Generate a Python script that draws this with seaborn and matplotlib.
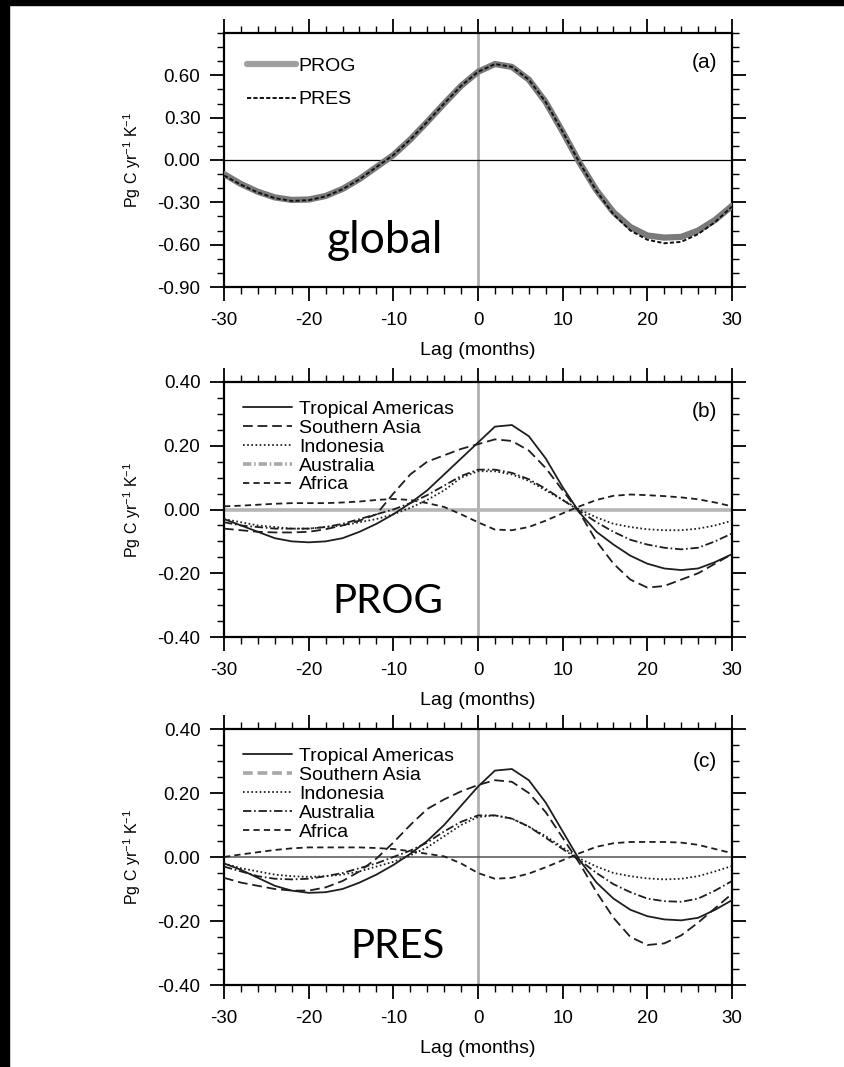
import matplotlib
matplotlib.use("Agg")
import matplotlib.pyplot as plt
from matplotlib.patches import Rectangle
from matplotlib.ticker import MultipleLocator
import seaborn as sns

# ---------------- data ----------------
lags = list(range(-30, 31, 2))

global_prog = [-0.10, -0.17, -0.225, -0.265, -0.283, -0.28, -0.255, -0.205, -0.135, -0.05,
               0.035, 0.145, 0.27, 0.40, 0.525, 0.625, 0.68, 0.66, 0.57, 0.41,
               0.20, -0.02, -0.215, -0.37, -0.475, -0.535, -0.55, -0.545, -0.50, -0.425, -0.325]
global_pres = [-0.11, -0.175, -0.23, -0.27, -0.29, -0.285, -0.258, -0.207, -0.137, -0.05,
               0.035, 0.145, 0.27, 0.40, 0.525, 0.625, 0.68, 0.66, 0.57, 0.41,
               0.20, -0.02, -0.22, -0.385, -0.50, -0.565, -0.59, -0.58, -0.525, -0.44, -0.33]

regions = ["Tropical Americas", "Southern Asia", "Indonesia", "Australia", "Africa"]

prog_values = {
    "Tropical Americas": [-0.03, -0.05, -0.07, -0.09, -0.10, -0.103, -0.10, -0.09, -0.07, -0.045,
                          -0.015, 0.02, 0.06, 0.11, 0.16, 0.21, 0.26, 0.265, 0.23, 0.16,
                          0.07, -0.01, -0.07, -0.11, -0.145, -0.17, -0.185, -0.19, -0.185, -0.165, -0.14],
    "Southern Asia": [-0.06, -0.065, -0.07, -0.072, -0.072, -0.07, -0.062, -0.05, -0.035, -0.015,
                      0.05, 0.11, 0.15, 0.17, 0.19, 0.205, 0.22, 0.215, 0.185, 0.13,
                      0.06, -0.01, -0.10, -0.17, -0.22, -0.245, -0.24, -0.22, -0.20, -0.17, -0.14],
    "Indonesia": [-0.03, -0.04, -0.05, -0.055, -0.06, -0.06, -0.055, -0.05, -0.04, -0.03,
                  -0.015, 0.005, 0.03, 0.06, 0.10, 0.12, 0.12, 0.11, 0.09, 0.06,
                  0.03, 0.0, -0.025, -0.045, -0.055, -0.062, -0.065, -0.065, -0.06, -0.05, -0.035],
    "Australia": [-0.04, -0.05, -0.055, -0.06, -0.06, -0.06, -0.055, -0.045, -0.03, -0.015,
                  0.0, 0.02, 0.045, 0.075, 0.105, 0.125, 0.125, 0.115, 0.095, 0.065,
                  0.03, -0.005, -0.04, -0.07, -0.095, -0.11, -0.12, -0.125, -0.12, -0.10, -0.075],
    "Africa": [0.01, 0.012, 0.015, 0.018, 0.02, 0.02, 0.02, 0.022, 0.025, 0.03,
               0.033, 0.03, 0.02, 0.008, -0.015, -0.04, -0.063, -0.065, -0.055, -0.035,
               -0.012, 0.01, 0.03, 0.043, 0.047, 0.045, 0.042, 0.038, 0.032, 0.022, 0.01],
}

pres_values = {
    "Tropical Americas": [-0.02, -0.04, -0.065, -0.09, -0.105, -0.112, -0.11, -0.10, -0.08, -0.055,
                          -0.025, 0.01, 0.05, 0.10, 0.16, 0.22, 0.27, 0.275, 0.24, 0.17,
                          0.08, -0.01, -0.08, -0.13, -0.165, -0.185, -0.195, -0.198, -0.19, -0.165, -0.135],
    "Southern Asia": [-0.065, -0.08, -0.09, -0.10, -0.105, -0.105, -0.095, -0.075, -0.045, -0.005,
                      0.045, 0.10, 0.15, 0.18, 0.205, 0.225, 0.24, 0.235, 0.20, 0.14,
                      0.06, -0.02, -0.11, -0.19, -0.25, -0.275, -0.27, -0.245, -0.205, -0.16, -0.115],
    "Indonesia": [-0.02, -0.035, -0.045, -0.055, -0.06, -0.062, -0.06, -0.055, -0.045, -0.03,
                  -0.015, 0.005, 0.03, 0.065, 0.10, 0.125, 0.13, 0.12, 0.095, 0.065,
                  0.03, -0.005, -0.03, -0.05, -0.06, -0.067, -0.07, -0.068, -0.06, -0.045, -0.028],
    "Australia": [-0.03, -0.045, -0.06, -0.068, -0.07, -0.068, -0.06, -0.05, -0.035, -0.02,
                  0.0, 0.02, 0.045, 0.08, 0.11, 0.13, 0.13, 0.12, 0.095, 0.06,
                  0.025, -0.01, -0.05, -0.085, -0.11, -0.13, -0.138, -0.14, -0.13, -0.105, -0.075],
    "Africa": [0.0, 0.008, 0.015, 0.022, 0.027, 0.03, 0.03, 0.03, 0.03, 0.028,
               0.025, 0.018, 0.01, 0.002, -0.02, -0.05, -0.068, -0.065, -0.052, -0.032,
               -0.01, 0.012, 0.032, 0.043, 0.047, 0.047, 0.047, 0.045, 0.038, 0.025, 0.012],
}

a_yticks = [-0.90, -0.60, -0.30, 0.00, 0.30, 0.60]
bc_yticks = [-0.40, -0.20, 0.00, 0.20, 0.40]
x_ticks = [-30, -20, -10, 0, 10, 20, 30]

# ---------------- style ----------------
sns.set_style("ticks")
plt.rcParams["font.family"] = ["Liberation Sans", "DejaVu Sans"]
plt.rcParams["mathtext.fontset"] = "custom"
plt.rcParams["mathtext.rm"] = "Liberation Sans"
plt.rcParams["mathtext.default"] = "regular"
plt.rcParams["lines.scale_dashes"] = False
plt.rcParams["text.color"] = "black"
plt.rcParams["axes.labelcolor"] = "black"
plt.rcParams["xtick.color"] = "black"
plt.rcParams["ytick.color"] = "black"
plt.rcParams["xtick.labelcolor"] = "black"
plt.rcParams["ytick.labelcolor"] = "black"

LINE = "#1e1e1e"
region_styles = {
    "Tropical Americas": "-",
    "Southern Asia": (0, (7, 3.5)),
    "Indonesia": (0, (1.2, 1.8)),
    "Australia": (0, (6, 2, 1.2, 2)),
    "Africa": (0, (4.5, 3)),
}

fig = plt.figure(figsize=(8.45, 10.67), dpi=100)
W, H = 845, 1067


def px_axes(left, top, right, bottom):
    return fig.add_axes([left / W, 1 - bottom / H, (right - left) / W, (bottom - top) / H])


def style_axes(ax, ylim, yticks, yminor):
    ax.set_xlim(-30, 30)
    ax.set_ylim(*ylim)
    ax.set_xticks(x_ticks)
    ax.set_xticklabels([str(t) for t in x_ticks])
    ax.xaxis.set_minor_locator(MultipleLocator(2))
    ax.set_yticks(yticks)
    ax.set_yticklabels([f"{t:.2f}" for t in yticks])
    ax.yaxis.set_minor_locator(MultipleLocator(yminor))
    ax.tick_params(which="both", direction="out", top=True, right=True,
                   labeltop=False, labelright=False, color="black", labelcolor="black")
    ax.tick_params(which="major", length=10, width=1.3, labelsize=13.5, pad=7)
    ax.tick_params(axis="x", which="major", pad=8)
    ax.tick_params(which="minor", length=5, width=1.0)
    for s in ax.spines.values():
        s.set_visible(True)
        s.set_linewidth(1.6)
        s.set_color("black")
    ax.set_xlabel("Lag (months)", fontsize=14, color="black")
    ax.xaxis.set_label_coords(0.5, -0.215)
    ax.set_ylabel("Pg C yr$^{-1}$ K$^{-1}$", fontsize=11.5, color="black")
    ax.yaxis.set_label_coords(-0.16, 0.5)


# ---------------- panel (a): global ----------------
ax_a = px_axes(224, 33, 732, 287)
ax_a.axvline(0, color="#b0b0b0", lw=2.0, zorder=1)
ax_a.axhline(0, color="black", lw=0.9, zorder=1)
sns.lineplot(x=lags, y=global_prog, ax=ax_a, color="#7a7a7a", lw=4.5, label="PROG", zorder=3)
sns.lineplot(x=lags, y=global_pres, ax=ax_a, color="#111111", lw=1.4,
             linestyle=(0, (3, 1.6)), label="PRES", zorder=4)
style_axes(ax_a, (-0.90, 0.90), a_yticks, 0.10)
leg_a = ax_a.legend(loc="upper left", bbox_to_anchor=(0.03, 0.935), frameon=False, fontsize=14,
                    handlelength=2.5, handletextpad=0.15, labelspacing=0.82, borderaxespad=0)
leg_a.legend_handles[0].set_color("#a0a0a0")
ax_a.text(0.97, 0.882, "(a)", transform=ax_a.transAxes, ha="right", va="center", fontsize=15)
ax_a.text(0.317, 0.134, "global", transform=ax_a.transAxes, ha="center", va="baseline",
          fontsize=32, family="Lato")


# ---------------- panels (b) and (c): regions ----------------
def region_panel(ax, values, tag, name, zero_color, zero_lw, grey_entry):
    ax.axvline(0, color="#b0b0b0", lw=2.0, zorder=1)
    ax.axhline(0, color=zero_color, lw=zero_lw, zorder=1)
    for r in regions:
        sns.lineplot(x=lags, y=values[r], ax=ax, color=LINE, lw=1.3,
                     linestyle=region_styles[r], label=r, zorder=3)
    style_axes(ax, (-0.40, 0.40), bc_yticks, 0.05)
    leg = ax.legend(loc="upper left", bbox_to_anchor=(0.022, 0.96), frameon=False, fontsize=14,
                    handlelength=2.5, handletextpad=0.4, labelspacing=0.07, borderaxespad=0)
    h = leg.legend_handles[regions.index(grey_entry)]
    h.set_color("#a8a8a8")
    h.set_linewidth(2.6)
    ax.text(0.97, 0.884 if tag == "(b)" else 0.872, tag, transform=ax.transAxes,
            ha="right", va="center", fontsize=15)
    x_txt = 0.323 if name == "PROG" else 0.341
    y_txt = 0.094 if name == "PROG" else 0.105
    ax.text(x_txt, y_txt, name, transform=ax.transAxes, ha="center", va="baseline",
            fontsize=29, family="Lato")


ax_b = px_axes(224, 382, 732, 637)
region_panel(ax_b, prog_values, "(b)", "PROG", "#b5b5b5", 2.6, "Australia")

ax_c = px_axes(224, 729, 732, 985)
region_panel(ax_c, pres_values, "(c)", "PRES", "#555555", 1.1, "Southern Asia")

# dark frame strips along the top and left edges
fig.add_artist(Rectangle((0, 1 - 5 / H), 1, 5 / H, transform=fig.transFigure,
                         color="black", zorder=10))
fig.add_artist(Rectangle((0, 0), 9 / W, 1, transform=fig.transFigure,
                         color="black", zorder=10))

fig.savefig("out.png", dpi=100, facecolor="white")
